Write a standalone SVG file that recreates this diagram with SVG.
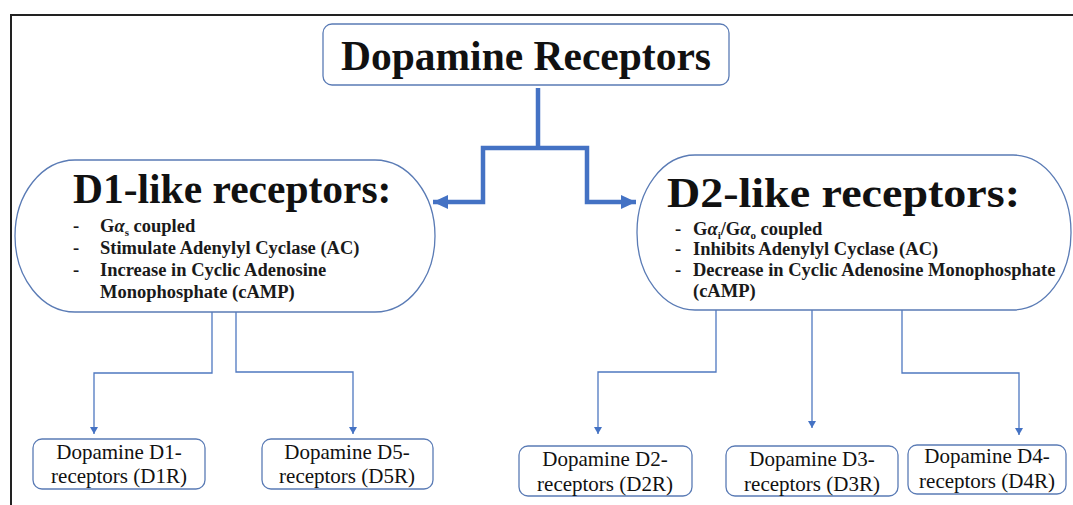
<svg xmlns="http://www.w3.org/2000/svg" width="1073" height="505" viewBox="0 0 1073 505">
<defs>
<style>
.frame{fill:none;stroke:#222;stroke-width:2}
.box{fill:#fff;stroke:#5a7bb5;stroke-width:1.3}
.thick{fill:none;stroke:#4472c4;stroke-width:4.5}
.thin{fill:none;stroke:#4f78c0;stroke-width:1.3}
text{font-family:'Liberation Serif','Times New Roman',serif}
.title{font-weight:bold;fill:#111}
.bul{font-weight:bold;font-size:18.5px;fill:#1a1a1a}
.lbl{font-size:21px;fill:#111;text-anchor:middle}
</style>
<marker id="big" markerUnits="userSpaceOnUse" markerWidth="16" markerHeight="14" refX="15" refY="7" orient="auto">
<path d="M0,0 L15,7 L0,14 Z" fill="#4472c4"/>
</marker>
<marker id="small" markerUnits="userSpaceOnUse" markerWidth="8" markerHeight="8" refX="7" refY="4" orient="auto">
<path d="M0,0 L7,4 L0,8 Z" fill="#4472c4"/>
</marker>
</defs>
<rect width="1073" height="505" fill="#fff"/>
<path class="frame" d="M1073,15 H11 V505"/>

<g id="connectors">
<path class="thick" d="M538,88 V148"/>
<path class="thick" d="M538,148 H483 V202 H433" marker-end="url(#big)"/>
<path class="thick" d="M538,148 H587 V202 H636" marker-end="url(#big)"/>
<path class="thin" d="M212,312 V373 H94 V434" marker-end="url(#small)"/>
<path class="thin" d="M236,312 V372 H353 V434" marker-end="url(#small)"/>
<path class="thin" d="M716,310 V372 H598 V434" marker-end="url(#small)"/>
<path class="thin" d="M812,310 V428" marker-end="url(#small)"/>
<path class="thin" d="M902,310 V373 H1019 V435" marker-end="url(#small)"/>
</g>

<g id="node-root">
<rect class="box" x="323" y="24" width="406" height="61" rx="9"/>
<text class="title" x="526" y="70" font-size="41.5" text-anchor="middle" font-family="Liberation Serif, serif">Dopamine Receptors</text>
</g>

<g id="node-d1like">
<rect class="box" x="15" y="160" width="420" height="152" rx="60" ry="76"/>
<text class="title" x="73" y="203" font-size="41.5" font-family="Liberation Serif, serif">D1-like receptors:</text>
<text class="bul" x="73" y="232">-</text>
<text class="bul" x="100" y="232">G<tspan font-style="italic">α</tspan><tspan font-size="11" dy="4">s</tspan><tspan dy="-4"> coupled</tspan></text>
<text class="bul" x="73" y="254">-</text>
<text class="bul" x="100" y="254">Stimulate Adenylyl Cyclase (AC)</text>
<text class="bul" x="73" y="276">-</text>
<text class="bul" x="100" y="276">Increase in Cyclic Adenosine</text>
<text class="bul" x="100" y="298">Monophosphate (cAMP)</text>
</g>

<g id="node-d2like">
<rect class="box" x="637" y="155" width="434" height="155" rx="58" ry="77"/>
<text class="title" x="667" y="207" font-size="42" textLength="353" lengthAdjust="spacingAndGlyphs" font-family="Liberation Serif, serif">D2-like receptors:</text>
<text class="bul" x="675" y="235">-</text>
<text class="bul" x="693" y="235">G<tspan font-style="italic">α</tspan><tspan font-size="11" dy="4">i</tspan><tspan dy="-4">/G</tspan><tspan font-style="italic">α</tspan><tspan font-size="11" dy="4">o</tspan><tspan dy="-4"> coupled</tspan></text>
<text class="bul" x="675" y="255">-</text>
<text class="bul" x="693" y="255">Inhibits Adenylyl Cyclase (AC)</text>
<text class="bul" x="675" y="276">-</text>
<text class="bul" x="693" y="276">Decrease in Cyclic Adenosine Monophosphate</text>
<text class="bul" x="693" y="297">(cAMP)</text>
</g>

<g id="node-d1r">
<rect class="box" x="33" y="439" width="172" height="50" rx="9"/>
<text class="lbl" x="119" y="459">Dopamine D1-</text>
<text class="lbl" x="119" y="483">receptors (D1R)</text>
</g>
<g id="node-d5r">
<rect class="box" x="262" y="439" width="171" height="50" rx="9"/>
<text class="lbl" x="347" y="459">Dopamine D5-</text>
<text class="lbl" x="347" y="483">receptors (D5R)</text>
</g>
<g id="node-d2r">
<rect class="box" x="519" y="446" width="173" height="50" rx="9"/>
<text class="lbl" x="605" y="466">Dopamine D2-</text>
<text class="lbl" x="605" y="491">receptors (D2R)</text>
</g>
<g id="node-d3r">
<rect class="box" x="726" y="446" width="172" height="50" rx="9"/>
<text class="lbl" x="812" y="466">Dopamine D3-</text>
<text class="lbl" x="812" y="491">receptors (D3R)</text>
</g>
<g id="node-d4r">
<rect class="box" x="908" y="445" width="158" height="49" rx="9"/>
<text class="lbl" x="987" y="463">Dopamine D4-</text>
<text class="lbl" x="987" y="488">receptors (D4R)</text>
</g>
</svg>
